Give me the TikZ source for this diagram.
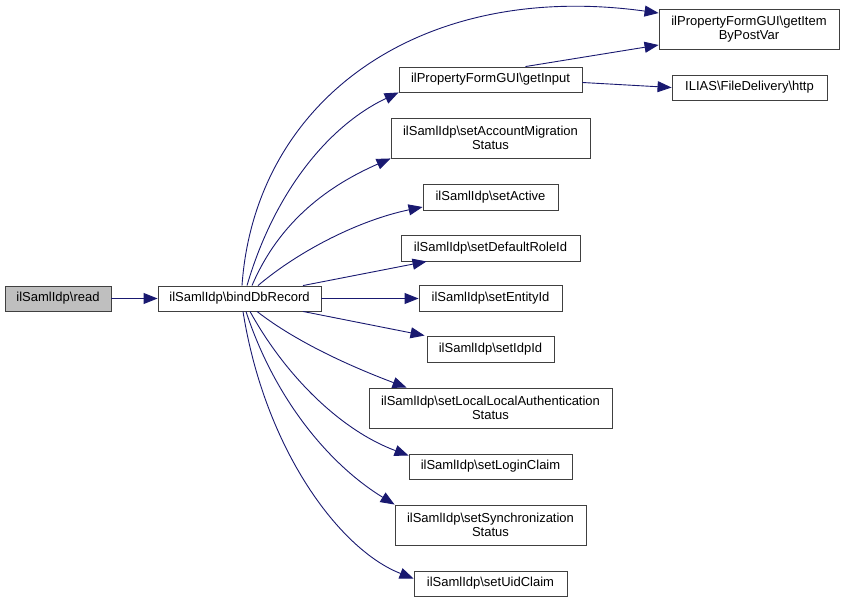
\documentclass[tikz,border=0pt]{standalone}
\usepackage{fontspec}
\setmainfont{Liberation Sans}
\usetikzlibrary{arrows.meta}
\definecolor{edgecol}{HTML}{191970}
\definecolor{boxcol}{HTML}{404040}
\definecolor{greyfill}{HTML}{BFBFBF}
\tikzset{
  fn/.style={draw=boxcol, line width=0.9pt, fill=white, inner sep=0pt, align=center,
    font=\fontsize{13}{14}\selectfont},
  call/.style={draw=edgecol, line width=0.9pt, -{Triangle[length=14pt,width=11pt]}, edgecol}
}
\begin{document}
\begin{tikzpicture}[x=1pt,y=-1pt]
\useasboundingbox (0,0) rectangle (844,602);
\node[fn, fill=greyfill, minimum width=106pt, minimum height=25pt] (read) at (58,298.5) {ilSamlIdp\textbackslash read};
\node[fn, minimum width=163pt, minimum height=25pt] (bind) at (239.5,298.5) {ilSamlIdp\textbackslash bindDbRecord};
\node[fn, minimum width=180pt, minimum height=40pt] (getitem) at (749,29) {ilPropertyFormGUI\textbackslash getItem\\ByPostVar};
\node[fn, minimum width=183pt, minimum height=25pt] (getinput) at (490.5,79.5) {ilPropertyFormGUI\textbackslash getInput};
\node[fn, minimum width=155pt, minimum height=25pt] (http) at (749.5,87.5) {ILIAS\textbackslash FileDelivery\textbackslash http};
\node[fn, minimum width=199pt, minimum height=40pt] (setacc) at (490.5,138) {ilSamlIdp\textbackslash setAccountMigration\\Status};
\node[fn, minimum width=135pt, minimum height=26pt] (setactive) at (490.5,197) {ilSamlIdp\textbackslash setActive};
\node[fn, minimum width=179pt, minimum height=26pt] (setdefault) at (490.5,248) {ilSamlIdp\textbackslash setDefaultRoleId};
\node[fn, minimum width=143pt, minimum height=26pt] (setentity) at (490.5,298.5) {ilSamlIdp\textbackslash setEntityId};
\node[fn, minimum width=127pt, minimum height=26pt] (setidp) at (490.5,349) {ilSamlIdp\textbackslash setIdpId};
\node[fn, minimum width=243pt, minimum height=40pt] (setlocal) at (490.5,408) {ilSamlIdp\textbackslash setLocalLocalAuthentication\\Status};
\node[fn, minimum width=163pt, minimum height=25pt] (setlogin) at (490.5,466.5) {ilSamlIdp\textbackslash setLoginClaim};
\node[fn, minimum width=191pt, minimum height=40pt] (setsync) at (490.5,525) {ilSamlIdp\textbackslash setSynchronization\\Status};
\node[fn, minimum width=153pt, minimum height=25pt] (setuid) at (490.5,583.5) {ilSamlIdp\textbackslash setUidClaim};

\draw[call] (read) -- (bind);
\draw[call] ([xshift=2.5pt]bind.north) .. controls (255,100) and (420,-20) .. ([yshift=16pt]getitem.west);
\draw[call] ([xshift=7.5pt]bind.north) .. controls (275,190) and (330,125) .. (getinput.south west);
\draw[call] ([xshift=12.5pt]bind.north) .. controls (280,220) and (330,185) .. (setacc.south west);
\draw[call] ([xshift=18.5pt]bind.north) .. controls (300,250) and (360,220) .. ([yshift=-10pt]setactive.west);
\draw[call] ([xshift=63.5pt]bind.north) -- ([xshift=26pt]setdefault.south west);
\draw[call] (bind.east) -- (setentity.west);
\draw[call] ([xshift=63.5pt]bind.south) -- ([xshift=-2pt]setidp.north west);
\draw[call] ([xshift=17.5pt]bind.south) .. controls (300,345) and (360,370) .. ([xshift=38pt]setlocal.north west);
\draw[call] ([xshift=10.5pt]bind.south) .. controls (285,375) and (340,430) .. ([yshift=11pt]setlogin.west);
\draw[call] ([xshift=6.5pt]bind.south) .. controls (275,400) and (330,465) .. (setsync.north west);
\draw[call] ([xshift=3.5pt]bind.south) .. controls (265,450) and (340,550) .. ([yshift=5pt]setuid.west);
\draw[call] ([xshift=35pt]getinput.north) -- ([yshift=-16pt]getitem.west);
\draw[call] ([yshift=-3pt]getinput.east) -- (http.west);
\end{tikzpicture}
\end{document}
